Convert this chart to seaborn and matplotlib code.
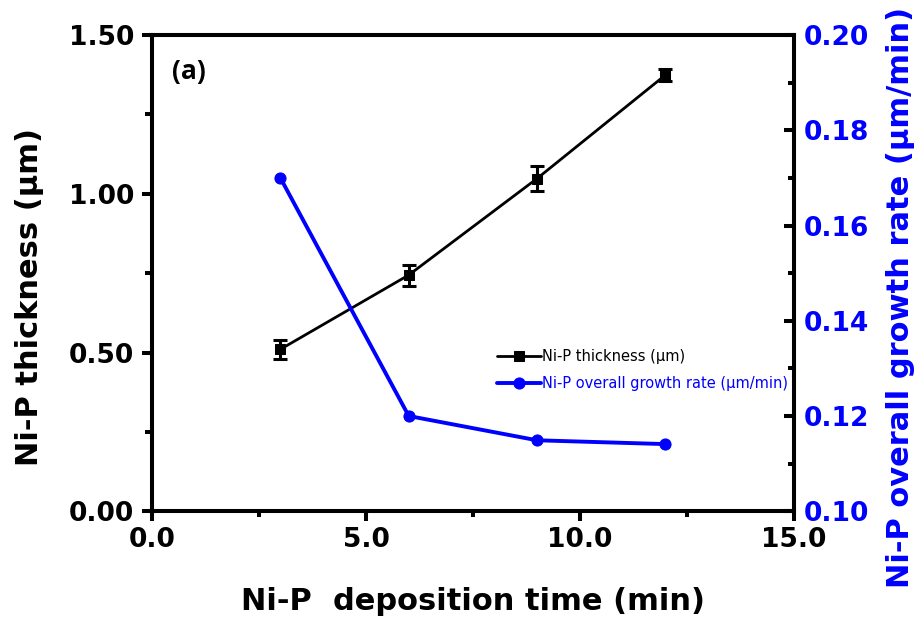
import numpy as np
import pandas as pd
import matplotlib
matplotlib.use('Agg')
import matplotlib.pyplot as plt
from matplotlib.ticker import MultipleLocator, FormatStrFormatter
import seaborn as sns

# data
time_min = [3, 6, 9, 12]
thickness = [0.51, 0.744, 1.048, 1.374]
thickness_err = [0.03, 0.033, 0.038, 0.02]
growth_rate = [0.170, 0.1200, 0.1149, 0.1141]

sns.set_style('ticks')
plt.rcParams['font.family'] = ['DejaVu Sans']
plt.rcParams['text.color'] = 'black'
plt.rcParams['axes.labelcolor'] = 'black'
plt.rcParams['xtick.color'] = 'black'
plt.rcParams['ytick.color'] = 'black'
plt.rcParams['axes.edgecolor'] = 'black'

BLUE = '#0000ff'

df = pd.DataFrame({'time': time_min, 'thick': thickness, 'rate': growth_rate})

fig, ax = plt.subplots(figsize=(9.23, 6.25), dpi=100)
fig.subplots_adjust(left=0.1647, right=0.86, top=0.944, bottom=0.182)
ax2 = ax.twinx()

sns.lineplot(data=df, x='time', y='thick', ax=ax, color='black', marker='s',
             markersize=7, linewidth=2, markeredgecolor='black',
             label='Ni-P thickness (\u00b5m)', legend=False)
ax.errorbar(time_min, thickness, yerr=thickness_err, fmt='none', ecolor='black',
            elinewidth=2.2, capsize=5, capthick=2.2)
sns.lineplot(data=df, x='time', y='rate', ax=ax2, color=BLUE, marker='o',
             markersize=8, linewidth=2.8, markeredgecolor=BLUE,
             label='Ni-P overall growth rate (\u00b5m/min)', legend=False)

ax.set_xlim(0, 15)
ax.set_ylim(0, 1.5)
ax2.set_ylim(0.10, 0.20)

ax.xaxis.set_major_locator(MultipleLocator(5))
ax.xaxis.set_minor_locator(MultipleLocator(2.5))
ax.yaxis.set_major_locator(MultipleLocator(0.5))
ax.yaxis.set_minor_locator(MultipleLocator(0.25))
ax2.yaxis.set_major_locator(MultipleLocator(0.02))
ax2.yaxis.set_minor_locator(MultipleLocator(0.01))
ax.xaxis.set_major_formatter(FormatStrFormatter('%.1f'))
ax.yaxis.set_major_formatter(FormatStrFormatter('%.2f'))
ax2.yaxis.set_major_formatter(FormatStrFormatter('%.2f'))

for a in (ax, ax2):
    for sp in a.spines.values():
        sp.set_linewidth(2.9)
        sp.set_color('black')
        sp.set_visible(True)

ax.tick_params(axis='x', which='major', direction='out', length=7, width=2.9,
               labelsize=19, pad=4)
ax.tick_params(axis='x', which='minor', direction='out', length=4.5, width=2.9)
ax.tick_params(axis='y', which='major', direction='out', length=7, width=2.9,
               labelsize=19, pad=6)
ax.tick_params(axis='y', which='minor', direction='out', length=5, width=2.9)
ax2.tick_params(axis='y', which='major', direction='in', length=7, width=2.9,
                labelsize=19, labelcolor=BLUE, pad=7)
ax2.tick_params(axis='y', which='minor', direction='in', length=4, width=2.9)

for lab in ax.get_xticklabels() + ax.get_yticklabels() + ax2.get_yticklabels():
    lab.set_fontweight('bold')

ax.set_xlabel('Ni-P  deposition time (min)', fontsize=22, fontweight='bold', labelpad=25)
ax.set_ylabel('Ni-P thickness (\u00b5m)', fontsize=22, fontweight='bold', labelpad=18)
ax2.set_ylabel('Ni-P overall growth rate (\u00b5m/min)', fontsize=22,
               fontweight='bold', color=BLUE, labelpad=12)
ax.yaxis.label.set_y(0.45)
ax2.yaxis.label.set_y(0.45)

ax.text(189 / 923, 1 - 72 / 625, '(a)', transform=fig.transFigure, fontsize=19,
        fontweight='bold', family=['Open Sans', 'DejaVu Sans'], va='center', ha='center')

h1, l1 = ax.get_legend_handles_labels()
h2, l2 = ax2.get_legend_handles_labels()
leg = ax2.legend(h1 + h2, l1 + l2, loc='upper left',
                 bbox_to_anchor=(497 / 923, 1 - 349 / 625),
                 bbox_transform=fig.transFigure, frameon=False, fontsize=10.5,
                 handlelength=3, handletextpad=0.1, labelspacing=0.8,
                 borderpad=0, borderaxespad=0, labelcolor='linecolor')

plt.savefig('out.png', dpi=100)
